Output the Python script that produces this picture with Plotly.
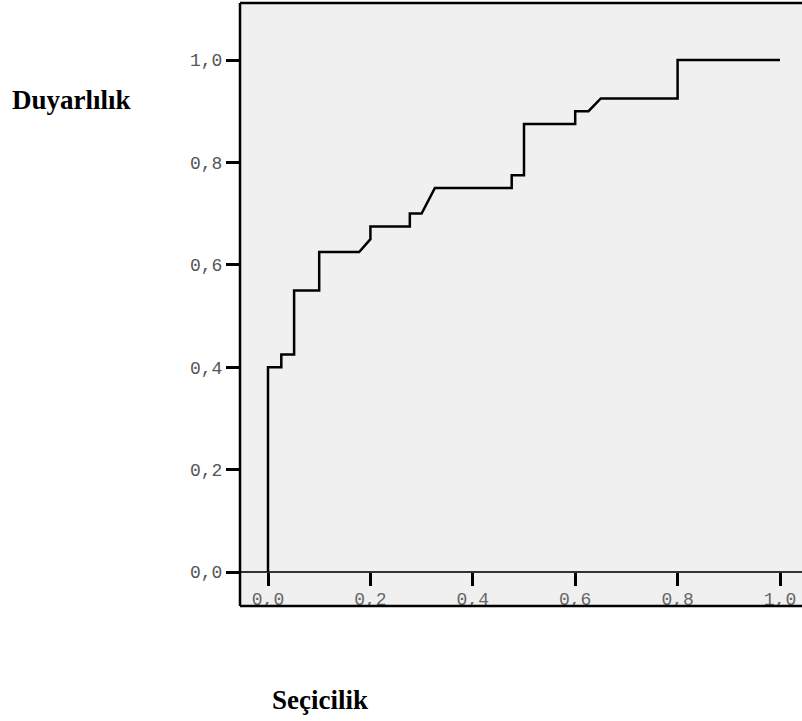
import plotly.graph_objects as go

# ROC curve data (1 - specificity on x, sensitivity on y)
fpr = [0.0, 0.0, 0.026, 0.026, 0.051, 0.051, 0.1, 0.1, 0.178, 0.2, 0.2, 0.277, 0.277,
       0.3, 0.326, 0.476, 0.476, 0.5, 0.5, 0.6, 0.6, 0.626, 0.65, 0.8, 0.8, 1.0]
tpr = [0.0, 0.4, 0.4, 0.425, 0.425, 0.55, 0.55, 0.625, 0.625, 0.65, 0.675, 0.675, 0.7,
       0.7, 0.75, 0.75, 0.775, 0.775, 0.875, 0.875, 0.9, 0.9, 0.925, 0.925, 1.0, 1.0]

tick_vals = [0.0, 0.2, 0.4, 0.6, 0.8, 1.0]
tick_text = ["0,0", "0,2", "0,4", "0,6", "0,8", "1,0"]

y_title = "Duyarlılık"
x_title = "Seçicilik"

W, H = 802, 721
L, R, T, B = 240, 0, 3, 115
pw, ph = W - L - R, H - T - B
x0px, y0px, scale = 268, 572, 512  # pixel of data origin, px per unit

xr = [(L - x0px) / scale, (W - R - x0px) / scale]
yr = [(y0px - (H - B)) / scale, (y0px - T) / scale]

mono = "Liberation Mono, Courier New, monospace"
serif = "Liberation Serif, Times New Roman, serif"

fig = go.Figure()
fig.add_trace(go.Scatter(x=fpr, y=tpr, mode="lines",
                         line=dict(color="black", width=2.5), showlegend=False,
                         hoverinfo="skip"))
# x tick labels inside plot (clipped by plot area)
fig.add_trace(go.Scatter(x=tick_vals, y=[-0.0562] * len(tick_vals), mode="text",
                         text=tick_text, textposition="middle center",
                         textfont=dict(family=mono, size=18, color="#666666"),
                         cliponaxis=True, showlegend=False, hoverinfo="skip"))

fig.update_layout(
    width=W, height=H,
    margin=dict(l=L, r=R, t=T, b=B, pad=0),
    paper_bgcolor="white", plot_bgcolor="#f0f0f0",
    xaxis=dict(range=xr, tickvals=tick_vals, showticklabels=False,
               ticks="outside", ticklen=13, tickwidth=2.5, tickcolor="black",
               showgrid=False, zeroline=False, showline=False,
               anchor="free", position=(H - B - y0px) / ph, fixedrange=True),
    yaxis=dict(range=yr, tickvals=tick_vals, ticktext=tick_text,
               ticks="outside", ticklen=13, tickwidth=2.5, tickcolor="black",
               tickfont=dict(family=mono, size=18, color="#555555"),
               showgrid=False, zeroline=True, zerolinecolor="#333333",
               zerolinewidth=1.5, showline=False, fixedrange=True),
    shapes=[
        dict(type="line", xref="paper", yref="paper", x0=0, x1=0, y0=0, y1=1,
             line=dict(color="black", width=2.5)),
        dict(type="line", xref="paper", yref="paper", x0=0, x1=1, y0=1, y1=1,
             line=dict(color="black", width=2.5)),
        dict(type="line", xref="paper", yref="paper", x0=0, x1=1, y0=0, y1=0,
             line=dict(color="black", width=2.5)),
    ],
    annotations=[
        dict(text=f"<b>{y_title}</b>", xref="paper", yref="paper",
             x=(10 - L) / pw, y=(H - B - 100) / ph, xanchor="left", yanchor="middle",
             showarrow=False, font=dict(family=serif, size=27, color="black")),
        dict(text=f"<b>{x_title}</b>", xref="paper", yref="paper",
             x=(270 - L) / pw, y=(H - B - 700) / ph, xanchor="left", yanchor="middle",
             showarrow=False, font=dict(family=serif, size=27, color="black")),
    ],
)

fig.write_html("out.html", config={"displayModeBar": False},
               post_script="document.body.style.margin='0';document.body.style.overflow='hidden';")
